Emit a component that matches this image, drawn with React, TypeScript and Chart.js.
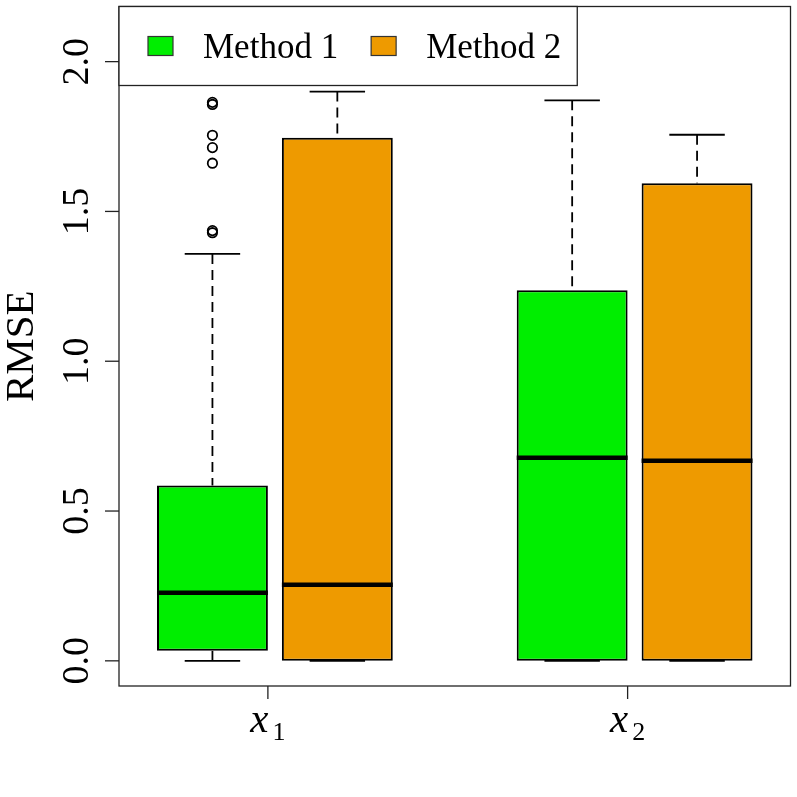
import React, { useEffect, useRef } from 'react';
import { Chart, registerables } from 'chart.js';

Chart.register(...registerables);

// ---- data ----
const groupSubscripts = ['1', '2'];
const groupPositions = [1, 2];
const methodLabels = ['Method 1', 'Method 2'];
const methodColors = ['#00EE00', '#EE9A00'];

// box-plot summaries, one value per group (x1, x2)
const method1Low = [0.0, 0.0];
const method1Q1 = [0.034, 0.0];
const method1Median = [0.227, 0.678];
const method1Q3 = [0.585, 1.237];
const method1High = [1.358, 1.871];

const method2Low = [0.0, 0.0];
const method2Q1 = [0.0, 0.0];
const method2Median = [0.254, 0.668];
const method2Q3 = [1.746, 1.594];
const method2High = [1.9, 1.756];

// outliers of Method 1 at x1
const method1OutliersX1 = [1.864, 1.857, 1.754, 1.713, 1.661, 1.436, 1.429];

const yTicks = [0, 0.5, 1.0, 1.5, 2.0];
const yTickLabels = ['0.0', '0.5', '1.0', '1.5', '2.0'];
const yTitle = 'RMSE';

// ---- layout (not data) ----
const BOX_WIDTH = 0.3083;
const BOX_GAP = 0.0389;
const methodOffsets = [-BOX_WIDTH / 2, BOX_WIDTH / 2 + BOX_GAP];
const X_MIN = 0.5861;
const X_MAX = 2.4528;
const Y_MIN = -0.084;
const Y_MAX = 2.184;
const SERIF = '"Liberation Serif", "Times New Roman", serif';

const summaries = [
  { low: method1Low, q1: method1Q1, med: method1Median, q3: method1Q3, high: method1High },
  { low: method2Low, q1: method2Q1, med: method2Median, q3: method2Q3, high: method2High },
];

function line(ctx: CanvasRenderingContext2D, x1: number, y1: number, x2: number, y2: number) {
  ctx.beginPath();
  ctx.moveTo(x1, y1);
  ctx.lineTo(x2, y2);
  ctx.stroke();
}

const boxDecor = {
  id: 'boxDecor',
  afterDatasetsDraw(chart: any) {
    const ctx: CanvasRenderingContext2D = chart.ctx;
    const ys = chart.scales.y;
    ctx.save();
    ctx.strokeStyle = '#000';
    summaries.forEach((s, di) => {
      const meta = chart.getDatasetMeta(di);
      meta.data.forEach((bar: any, i: number) => {
        const { x, width } = bar.getProps(['x', 'width'], true);
        const half = width / 2;
        const yLo = ys.getPixelForValue(s.low[i]);
        const yQ1 = ys.getPixelForValue(s.q1[i]);
        const yMed = ys.getPixelForValue(s.med[i]);
        const yQ3 = ys.getPixelForValue(s.q3[i]);
        const yHi = ys.getPixelForValue(s.high[i]);
        ctx.lineWidth = 1.8;
        ctx.lineCap = 'butt';
        ctx.setLineDash([10, 6]);
        line(ctx, x, yHi, x, yQ3);
        if (yLo - yQ1 > 0.5) line(ctx, x, yLo, x, yQ1);
        ctx.setLineDash([]);
        line(ctx, x - half / 2, yHi, x + half / 2, yHi);
        line(ctx, x - half / 2, yLo, x + half / 2, yLo);
        ctx.lineWidth = 4.6;
        line(ctx, x - half, yMed, x + half, yMed);
      });
    });
    ctx.restore();
  },
  afterDraw(chart: any) {
    const ctx: CanvasRenderingContext2D = chart.ctx;
    const area = chart.chartArea;
    const xs = chart.scales.x;
    const ys = chart.scales.y;
    ctx.save();
    ctx.strokeStyle = '#222';
    ctx.lineWidth = 1.3;
    // frame
    ctx.strokeRect(area.left, area.top, area.right - area.left, area.bottom - area.top);
    // y ticks and labels
    ctx.fillStyle = '#000';
    yTicks.forEach((v, i) => {
      const py = ys.getPixelForValue(v);
      line(ctx, area.left - 14, py, area.left, py);
      ctx.save();
      ctx.translate(area.left - 31, py);
      ctx.rotate(-Math.PI / 2);
      ctx.font = `38px ${SERIF}`;
      ctx.textAlign = 'center';
      ctx.textBaseline = 'alphabetic';
      ctx.fillText(yTickLabels[i], 0, 0);
      ctx.restore();
    });
    // y title
    ctx.save();
    ctx.translate(33, (area.top + area.bottom) / 2);
    ctx.rotate(-Math.PI / 2);
    ctx.font = `41px ${SERIF}`;
    ctx.textAlign = 'center';
    ctx.textBaseline = 'alphabetic';
    ctx.fillText(yTitle, 0, 0);
    ctx.restore();
    // x ticks and labels
    groupPositions.forEach((v, i) => {
      const px = xs.getPixelForValue(v);
      line(ctx, px, area.bottom, px, area.bottom + 13);
      ctx.font = `italic 41px ${SERIF}`;
      const wx = ctx.measureText('x').width;
      ctx.font = `26px ${SERIF}`;
      const ws = ctx.measureText(groupSubscripts[i]).width;
      const gap = 4;
      const start = px - (wx + gap + ws) / 2;
      ctx.textAlign = 'left';
      ctx.textBaseline = 'alphabetic';
      ctx.font = `italic 41px ${SERIF}`;
      ctx.fillText('x', start, area.bottom + 46);
      ctx.font = `26px ${SERIF}`;
      ctx.fillText(groupSubscripts[i], start + wx + gap, area.bottom + 54);
    });
    // legend
    ctx.font = `35px ${SERIF}`;
    const padL = 29, sqW = 25, sqH = 19, sqToText = 30, itemGap = 33, padR = 16, boxH = 79;
    const widths = methodLabels.map((t) => ctx.measureText(t).width);
    let total = padL;
    widths.forEach((w, i) => {
      total += sqW + sqToText + w + (i < widths.length - 1 ? itemGap : 0);
    });
    total += padR;
    const lx = area.left, ly = area.top;
    ctx.fillStyle = '#fff';
    ctx.fillRect(lx, ly, total, boxH);
    ctx.strokeStyle = '#222';
    ctx.lineWidth = 1.3;
    ctx.strokeRect(lx, ly, total, boxH);
    const cy = ly + 39.5;
    let cx = lx + padL;
    methodLabels.forEach((t, i) => {
      const ds = chart.data.datasets[i];
      ctx.fillStyle = ds.backgroundColor;
      ctx.fillRect(cx, cy - sqH / 2, sqW, sqH);
      ctx.strokeStyle = '#333';
      ctx.lineWidth = 1.2;
      ctx.strokeRect(cx, cy - sqH / 2, sqW, sqH);
      ctx.fillStyle = '#000';
      ctx.textAlign = 'left';
      ctx.textBaseline = 'alphabetic';
      ctx.fillText(ds.label, cx + sqW + sqToText, cy + 11.5);
      cx += sqW + sqToText + widths[i] + itemGap;
    });
    ctx.restore();
  },
};

export default function App() {
  const canvasRef = useRef<HTMLCanvasElement | null>(null);

  useEffect(() => {
    if (!canvasRef.current) return;
    const boxDatasets = summaries.map((s, di) => ({
      type: 'bar' as const,
      label: methodLabels[di],
      data: groupPositions.map((g, i) => ({ x: g + methodOffsets[di], y: [s.q1[i], s.q3[i]] })),
      backgroundColor: methodColors[di],
      borderColor: '#000',
      borderWidth: 2,
      borderSkipped: false,
      grouped: false,
      categoryPercentage: 1,
      barPercentage: BOX_WIDTH / (methodOffsets[1] - methodOffsets[0]),
    }));
    const outlierDataset = {
      type: 'scatter' as const,
      label: 'outliers',
      data: method1OutliersX1.map((v) => ({ x: groupPositions[0] + methodOffsets[0], y: v })),
      backgroundColor: 'rgba(0,0,0,0)',
      borderColor: '#000',
      borderWidth: 1.8,
      pointRadius: 4.7,
      pointStyle: 'circle',
    };
    const chart = new Chart(canvasRef.current, {
      type: 'bar',
      data: { datasets: [...boxDatasets, outlierDataset] as any },
      plugins: [boxDecor],
      options: {
        responsive: false,
        animation: false,
        layout: { padding: { left: 119, right: 6, top: 5, bottom: 111 } },
        plugins: { legend: { display: false }, tooltip: { enabled: false } },
        scales: {
          x: {
            type: 'linear',
            min: X_MIN,
            max: X_MAX,
            offset: false,
            display: false,
            ticks: { stepSize: 1 },
            afterBuildTicks: (s: any) => {
              s.ticks = groupPositions.map((v) => ({ value: v }));
            },
          },
          y: {
            type: 'linear',
            min: Y_MIN,
            max: Y_MAX,
            display: false,
            afterBuildTicks: (s: any) => {
              s.ticks = yTicks.map((v) => ({ value: v }));
            },
          },
        },
      } as any,
    });
    return () => chart.destroy();
  }, []);

  return (
    <div style={{ position: 'absolute', left: 0, top: 0, width: 797, height: 797, background: '#fff' }}>
      <canvas ref={canvasRef} width={797} height={797} style={{ display: 'block', width: 797, height: 797 }} />
    </div>
  );
}
